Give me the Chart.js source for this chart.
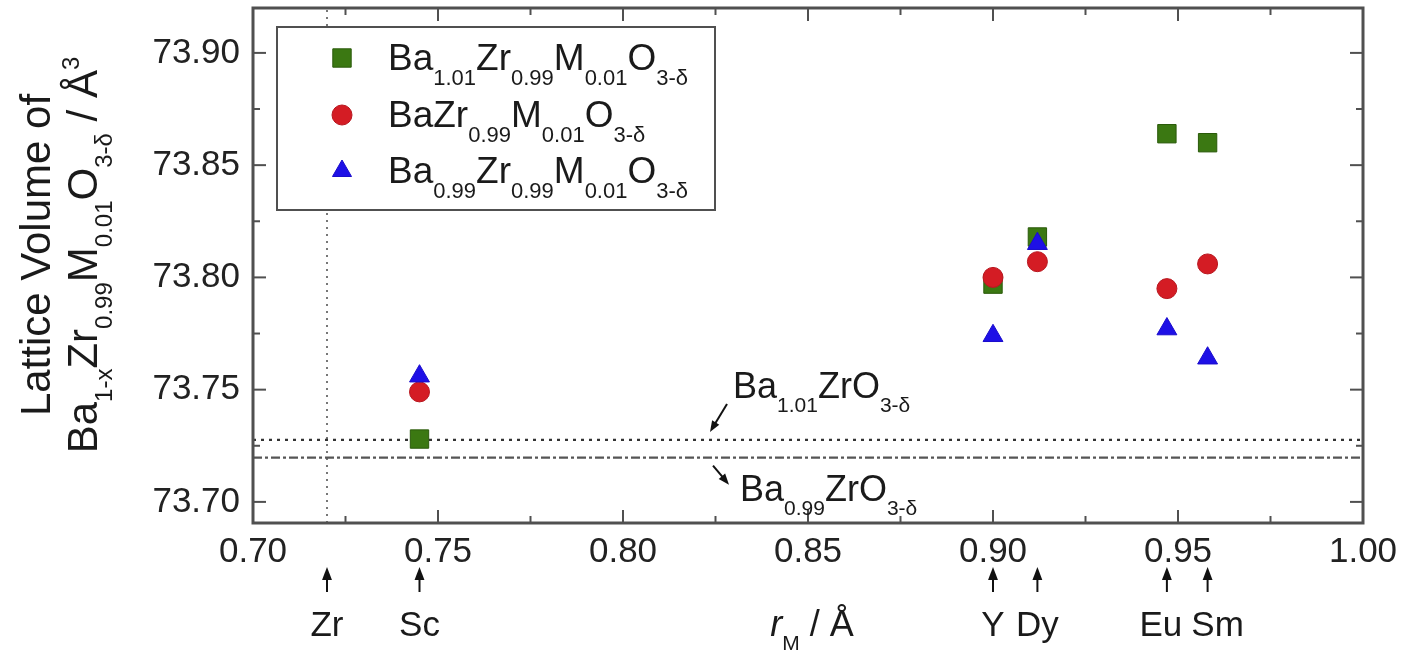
<!DOCTYPE html>
<html><head><meta charset="utf-8">
<script src="https://cdn.jsdelivr.net/npm/chart.js@4.4.1/dist/chart.umd.min.js"></script>
<style>html,body{margin:0;padding:0;background:#fff;overflow:hidden}#wrap{width:1405px;height:650px}</style>
</head><body><div id="wrap"><canvas id="c" width="1405" height="650"></canvas></div>
<script>
// ---- data ----
const dopants = ['Sc', 'Y', 'Dy', 'Eu', 'Sm'];
const dopantRadius = [0.745, 0.900, 0.912, 0.947, 0.958];
const volBa101 = [73.728, 73.797, 73.818, 73.864, 73.860];
const volBa100 = [73.749, 73.800, 73.807, 73.795, 73.806];
const volBa099 = [73.756, 73.774, 73.815, 73.777, 73.764];
const hostLabel = 'Zr';
const hostRadius = 0.72;
const refBa101 = 73.7276;
const refBa099 = 73.7197;
const xTicks = [0.70, 0.75, 0.80, 0.85, 0.90, 0.95, 1.00];
const xMinorTicks = [0.725, 0.775, 0.825, 0.875, 0.925, 0.975];
const yTicks = [73.70, 73.75, 73.80, 73.85, 73.90];
const yMinorTicks = [73.725, 73.775, 73.825, 73.875];
const xRange = [0.70, 1.00];
const yRange = [73.6906, 73.92];
// rich-text labels: [text, kind]
const seriesLabels = [
  [['Ba','n'],['1.01','sub'],['Zr','n'],['0.99','sub'],['M','n'],['0.01','sub'],['O','n'],['3-δ','sub']],
  [['BaZr','n'],['0.99','sub'],['M','n'],['0.01','sub'],['O','n'],['3-δ','sub']],
  [['Ba','n'],['0.99','sub'],['Zr','n'],['0.99','sub'],['M','n'],['0.01','sub'],['O','n'],['3-δ','sub']]
];
const refLabel101 = [['Ba','n'],['1.01','sub'],['ZrO','n'],['3-δ','sub']];
const refLabel099 = [['Ba','n'],['0.99','sub'],['ZrO','n'],['3-δ','sub']];
const yTitle1 = [['Lattice Volume of','n']];
const yTitle2 = [['Ba','n'],['1-x','sub'],['Zr','n'],['0.99','sub'],['M','n'],['0.01','sub'],['O','n'],['3-δ','sub'],[' / Å','n'],['3','sup']];
const xTitle = [['r','it'],['M','sub'],[' / Å','n']];

// ---- styles ----
const FAM = '"Liberation Sans", Arial, sans-serif';
const styles = [
  {shape:'rect', fill:'#3b7812', stroke:'#2a5a0a', r:13},
  {shape:'circle', fill:'#d41c24', stroke:'#b81820', r:10},
  {shape:'triangle', fill:'#1e10e6', stroke:'#1a0ccc', r:11.5}
];
const labelNudge = {Eu:-6, Sm:10};
const FRAME = '#505050';

function pts(xs, ys){ return xs.map((x,i)=>({x:x, y:ys[i]})); }

function drawRich(ctx, parts, x, y, F, S, subDy, supDy, color, measureOnly){
  let cx = x;
  ctx.fillStyle = color || '#1a1a1a';
  ctx.textAlign = 'left';
  ctx.textBaseline = 'alphabetic';
  for (const [t,k] of parts){
    const size = (k==='sub'||k==='sup') ? S : F;
    ctx.font = (k==='it' ? 'italic ' : '') + size + 'px ' + FAM;
    const dy = k==='sub' ? subDy : (k==='sup' ? supDy : 0);
    if (!measureOnly) ctx.fillText(t, cx, y + dy);
    cx += ctx.measureText(t).width;
  }
  return cx - x;
}

function marker(ctx, shape, x, y, r, fill, stroke){
  ctx.save();
  ctx.fillStyle = fill; ctx.strokeStyle = stroke; ctx.lineWidth = 1;
  ctx.beginPath();
  if (shape==='rect'){ const s = Math.SQRT1_2*r; ctx.rect(x-s, y-s, 2*s, 2*s); }
  else if (shape==='circle'){ ctx.arc(x, y, r, 0, Math.PI*2); }
  else { ctx.moveTo(x, y-r); ctx.lineTo(x + r*Math.sin(Math.PI/3), y + r/2); ctx.lineTo(x - r*Math.sin(Math.PI/3), y + r/2); ctx.closePath(); }
  ctx.fill(); ctx.stroke();
  ctx.restore();
}

function arrow(ctx, x1, y1, x2, y2, head, lw){
  const a = Math.atan2(y2-y1, x2-x1);
  ctx.save();
  ctx.strokeStyle = '#111'; ctx.fillStyle = '#111'; ctx.lineWidth = lw || 1.6;
  ctx.beginPath(); ctx.moveTo(x1,y1); ctx.lineTo(x2 - Math.cos(a)*head*0.8, y2 - Math.sin(a)*head*0.8); ctx.stroke();
  ctx.beginPath();
  ctx.moveTo(x2, y2);
  ctx.lineTo(x2 - head*Math.cos(a) + head*0.38*Math.sin(a), y2 - head*Math.sin(a) - head*0.38*Math.cos(a));
  ctx.lineTo(x2 - head*Math.cos(a) - head*0.38*Math.sin(a), y2 - head*Math.sin(a) + head*0.38*Math.cos(a));
  ctx.closePath(); ctx.fill();
  ctx.restore();
}

const decor = {
  id: 'decor',
  afterDatasetsDraw(chart){
    const ctx = chart.ctx, a = chart.chartArea, xs = chart.scales.x, ys = chart.scales.y;
    ctx.save();
    ctx.strokeStyle = FRAME; ctx.lineWidth = 3;
    ctx.strokeRect(a.left, a.top, a.right - a.left, a.bottom - a.top);
    ctx.lineWidth = 2;
    const tick = (x1,y1,x2,y2)=>{ ctx.beginPath(); ctx.moveTo(x1,y1); ctx.lineTo(x2,y2); ctx.stroke(); };
    xTicks.forEach(v=>{ const p = xs.getPixelForValue(v); tick(p, a.bottom, p, a.bottom-13); tick(p, a.top, p, a.top+13); });
    xMinorTicks.forEach(v=>{ const p = xs.getPixelForValue(v); tick(p, a.bottom, p, a.bottom-7); tick(p, a.top, p, a.top+7); });
    yTicks.forEach(v=>{ const p = ys.getPixelForValue(v); tick(a.left, p, a.left+13, p); tick(a.right, p, a.right-13, p); });
    yMinorTicks.forEach(v=>{ const p = ys.getPixelForValue(v); tick(a.left, p, a.left+7, p); tick(a.right, p, a.right-7, p); });

    // legend
    ctx.lineWidth = 2; ctx.strokeStyle = FRAME; ctx.fillStyle = '#fff';
    ctx.fillRect(277, 27, 438, 183); ctx.strokeRect(277, 27, 438, 183);
    const rows = [70, 127, 183];
    seriesLabels.forEach((lab,i)=>{
      const st = styles[i];
      marker(ctx, st.shape, 342, rows[i]-12, st.shape==='rect'?13:(st.shape==='circle'?10:11), st.fill, st.stroke);
      drawRich(ctx, lab, 388, rows[i], 37, 22, 15, -14);
    });

    // reference line annotations
    const y101 = ys.getPixelForValue(refBa101), y099 = ys.getPixelForValue(refBa099);
    drawRich(ctx, refLabel101, 733, y101-42, 36, 21, 14, -14);
    arrow(ctx, 727, y101-36, 710, y101-8, 11, 2);
    drawRich(ctx, refLabel099, 740, y099+43, 36, 21, 14, -14);
    arrow(ctx, 713, y099+8, 729, y099+27, 11, 2);

    // element markers under the axis
    const elems = [hostLabel].concat(dopants);
    const radii = [hostRadius].concat(dopantRadius);
    elems.forEach((e,i)=>{
      const p = xs.getPixelForValue(radii[i]);
      arrow(ctx, p, 592, p, 567, 13, 2);
      ctx.font = '35px ' + FAM; ctx.fillStyle = '#1a1a1a'; ctx.textAlign = 'center'; ctx.textBaseline = 'alphabetic';
      ctx.fillText(e, p + (labelNudge[e] || 0), 636);
    });

    // x title
    const w = drawRich(ctx, xTitle, 0, 0, 36, 21, 14, -14, null, true);
    drawRich(ctx, xTitle, 812 - w/2, 636, 36, 21, 14, -14);

    // y title (rotated)
    const ty = 255;
    [[yTitle1, 50], [yTitle2, 97]].forEach(([parts, bx])=>{
      ctx.save();
      ctx.translate(bx, ty); ctx.rotate(-Math.PI/2);
      const ww = drawRich(ctx, parts, 0, 0, 42, 24, 15, -18, null, true);
      drawRich(ctx, parts, -ww/2, 0, 42, 24, 15, -18);
      ctx.restore();
    });
    ctx.restore();
  }
};

new Chart(document.getElementById('c'), {
  type: 'scatter',
  data: {
    datasets: [
      {label:'Ba1.01', data: pts(dopantRadius, volBa101), order:3, pointStyle:'rect', pointRadius:styles[0].r, backgroundColor:styles[0].fill, borderColor:styles[0].stroke, borderWidth:1},
      {label:'Ba1.00', data: pts(dopantRadius, volBa100), order:2, pointStyle:'circle', pointRadius:styles[1].r, backgroundColor:styles[1].fill, borderColor:styles[1].stroke, borderWidth:1},
      {label:'Ba0.99', data: pts(dopantRadius, volBa099), order:1, pointStyle:'triangle', pointRadius:styles[2].r, backgroundColor:styles[2].fill, borderColor:styles[2].stroke, borderWidth:1},
      {type:'line', label:'Ba1.01ZrO3', data: pts(xRange, [refBa101, refBa101]), order:5, borderColor:'#333', borderWidth:2.2, borderDash:[3,5], pointRadius:0, showLine:true},
      {type:'line', label:'Ba0.99ZrO3', data: pts(xRange, [refBa099, refBa099]), order:6, borderColor:'#555', borderWidth:2.2, borderDash:[9,3,3,3], pointRadius:0, showLine:true},
      {type:'line', label:'Zr', data: pts([hostRadius, hostRadius], yRange), order:7, borderColor:'#777', borderWidth:2, borderDash:[2,5], pointRadius:0, showLine:true}
    ]
  },
  options: {
    responsive:false, animation:false, devicePixelRatio:1,
    layout:{autoPadding:false, padding:{left:0, top:8, right:42, bottom:0}},
    plugins:{legend:{display:false}, tooltip:{enabled:false}},
    scales:{
      x:{type:'linear', min:xRange[0], max:xRange[1],
        afterFit(s){ s.height = 127; s.paddingLeft = 0; s.paddingRight = 0; },
        afterBuildTicks(s){ s.ticks = xTicks.map(v=>({value:v})); },
        grid:{display:false, drawTicks:false}, border:{display:false},
        ticks:{font:{family:FAM, size:35}, color:'#222', padding:8, maxRotation:0, autoSkip:false, callback:v=>Number(v).toFixed(2)}},
      y:{type:'linear', min:yRange[0], max:yRange[1],
        afterFit(s){ s.width = 253; s.paddingTop = 0; s.paddingBottom = 0; },
        afterBuildTicks(s){ s.ticks = yTicks.map(v=>({value:v})); },
        grid:{display:false, drawTicks:false}, border:{display:false},
        ticks:{font:{family:FAM, size:35}, color:'#222', padding:13, autoSkip:false, callback:v=>Number(v).toFixed(2)}}
    }
  },
  plugins:[decor]
});
</script></body></html>
